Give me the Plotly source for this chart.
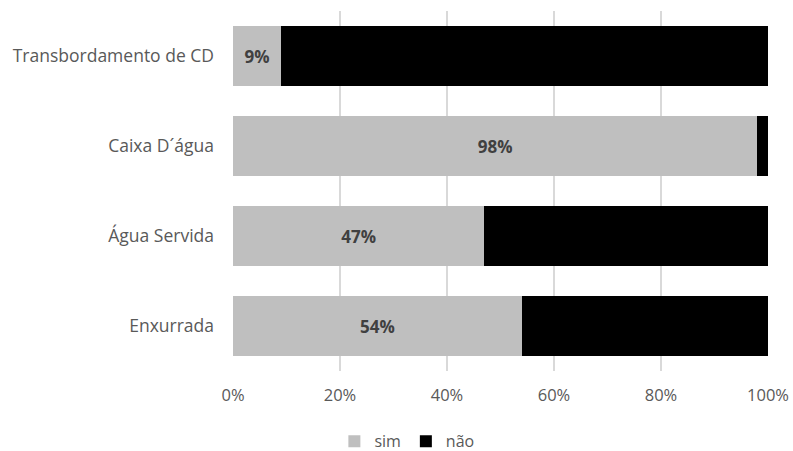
import plotly.graph_objects as go

categories = ["Transbordamento de CD", "Caixa D´água", "Água Servida", "Enxurrada"]
sim = [9, 98, 47, 54]
nao = [91, 2, 53, 46]
tick_vals = [0, 20, 40, 60, 80, 100]
tick_text = ["0%", "20%", "40%", "60%", "80%", "100%"]

font_family = "Open Sans, Liberation Sans, sans-serif"

fig = go.Figure()
fig.add_trace(go.Bar(
    y=categories, x=sim, name="sim", orientation="h",
    marker=dict(color="#bfbfbf", line=dict(width=0)),
    text=[f"{v}%" for v in sim], textposition="inside",
    insidetextanchor="middle",
    textfont=dict(family=font_family, size=17, color="#404040", weight="bold"),
))
fig.add_trace(go.Bar(
    y=categories, x=nao, name="não", orientation="h",
    marker=dict(color="#000000", line=dict(width=0)),
))

fig.update_layout(
    width=793, height=451,
    barmode="stack", bargap=0.34,
    plot_bgcolor="white", paper_bgcolor="white",
    margin=dict(l=233, r=25, t=11, b=80, autoexpand=False),
    font=dict(family=font_family, size=16, color="#595959"),
    showlegend=True,
    legend=dict(orientation="h", x=0.325, xanchor="center", y=-0.148, yanchor="top",
                font=dict(size=16, color="#595959"), traceorder="normal",
                itemwidth=30, entrywidth=0),
    xaxis=dict(range=[0, 100], tickvals=tick_vals, ticktext=tick_text,
               showgrid=True, gridcolor="#d9d9d9", gridwidth=1.5,
               zeroline=False, showline=False, ticks="", ticklabelstandoff=12,
               tickfont=dict(size=16.5)),
    yaxis=dict(categoryorder="array", categoryarray=categories[::-1],
               showgrid=False, showline=False, ticks="", ticklabelstandoff=18,
               tickfont=dict(size=17.5)),
    hovermode=False,
)

fig.write_html("out.html")
